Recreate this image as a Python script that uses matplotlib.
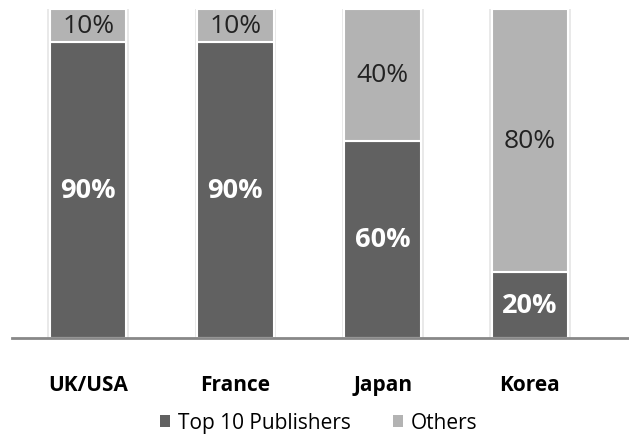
import matplotlib.pyplot as plt
from matplotlib.patches import Patch
import numpy as np

plt.rcParams['font.family'] = ['Open Sans', 'DejaVu Sans']

countries = ['UK/USA', 'France', 'Japan', 'Korea']
top10 = [90, 90, 60, 20]
others = [10, 10, 40, 80]
series_names = ['Top 10 Publishers', 'Others']

dark = '#616161'
light = '#b3b3b3'

fig = plt.figure(figsize=(6.29, 4.35), dpi=100)
ax = fig.add_axes([12 / 629, 96 / 435, 617 / 629, 329 / 435])

x = np.arange(len(countries))
width = 0.52
totals = np.array(top10) + np.array(others)

# soft glow around each column
ax.bar(x, totals, width + 0.035, color='#e9e9e9', edgecolor='none', zorder=1)

ax.bar(x, top10, width, color=dark, edgecolor='white', linewidth=1.5, zorder=2)
ax.bar(x, others, width, bottom=top10, color=light, edgecolor='white',
       linewidth=1.5, zorder=2)

for i in range(len(countries)):
    ax.text(x[i], top10[i] / 2, f'{top10[i]}%', ha='center', va='center',
            color='white', fontsize=19.5, fontweight='bold', zorder=3)
    ax.text(x[i], top10[i] + others[i] / 2, f'{others[i]}%', ha='center',
            va='center', color='#222222', fontsize=19, zorder=3)
    ax.text(x[i], -14, countries[i], ha='center', va='center',
            fontsize=15, fontweight='bold', color='black')

ax.set_xlim(-0.517, 3.673)
ax.set_ylim(0, 100)
ax.axis('off')
ax.axhline(0, color='#888888', linewidth=2, clip_on=False, zorder=4)

handles = [Patch(facecolor=dark, edgecolor='none', label=series_names[0]),
           Patch(facecolor=light, edgecolor='none', label=series_names[1])]
fig.legend(handles=handles, loc='center', bbox_to_anchor=(0.507, 1 - 424 / 435),
           ncol=2, frameon=False, fontsize=15, handlelength=0.48, handleheight=0.48,
           handletextpad=0.4, columnspacing=2.0)

fig.savefig('out.png', dpi=100)
